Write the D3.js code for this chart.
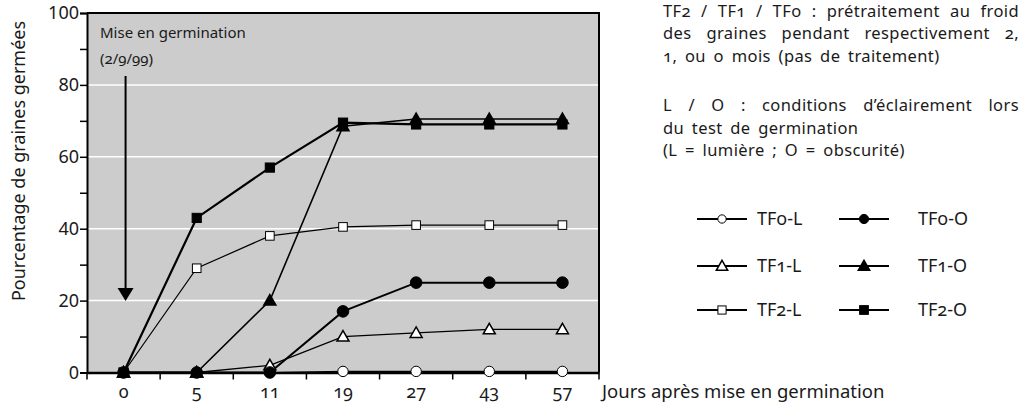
<!DOCTYPE html>
<html>
<head>
<meta charset="utf-8">
<script src="https://cdn.jsdelivr.net/npm/d3@7"></script>
<style>
  body { margin: 0; background: #fff; }
  svg text { font-family: "Noto Sans", "Open Sans", sans-serif; fill: #1a1a1a; font-feature-settings: "onum" 1; }
  .lining { font-feature-settings: "lnum" 1; }
</style>
</head>
<body>
<div id="chart"></div>
<script>
// days after germination start (categories)
var days = ["0", "5", "11", "19", "27", "43", "57"];
var yTicks = [0, 20, 40, 60, 80, 100];

// percentage of germinated seeds per series
var tf0L = [0, 0, 0, 0.3, 0.3, 0.3, 0.3];
var tf0O = [0, 0, 0, 17, 25, 25, 25];
var tf1L = [0, 0, 2, 10, 11, 12, 12];
var tf1O = [0, 0, 20, 68.5, 70.5, 70.5, 70.5];
var tf2L = [0, 29, 38, 40.5, 41, 41, 41];
var tf2O = [0, 43, 57, 69.5, 69, 69, 69];

var series = [
  { name: "TFo-L", values: tf0L, shape: "circle", fill: "#fff", w: 1.2 },
  { name: "TF1-L", values: tf1L, shape: "triangle", fill: "#fff", w: 1.3 },
  { name: "TF2-L", values: tf2L, shape: "square", fill: "#fff", w: 1.2 },
  { name: "TFo-O", values: tf0O, shape: "circle", fill: "#000", w: 2 },
  { name: "TF1-O", values: tf1O, shape: "triangle", fill: "#000", w: 1.6 },
  { name: "TF2-O", values: tf2O, shape: "square", fill: "#000", w: 2.2 }
];

var W = 1029, H = 408;
var plot = { left: 87, right: 599, top: 13, bottom: 372.5 };

var svg = d3.select("#chart").append("svg")
  .attr("width", W).attr("height", H);

var x = d3.scaleBand().domain(days).range([plot.left, plot.right]);
var y = d3.scaleLinear().domain([0, 100]).range([plot.bottom, plot.top]);

// plot background
svg.append("rect")
  .attr("x", plot.left).attr("y", plot.top)
  .attr("width", plot.right - plot.left).attr("height", plot.bottom - plot.top)
  .style("fill", "#cccccc");

// gridlines
svg.selectAll(".grid").data([20, 40, 60, 80]).enter().append("line")
  .attr("x1", plot.left).attr("x2", plot.right)
  .attr("y1", d => y(d)).attr("y2", d => y(d))
  .style("stroke", "#fff").style("stroke-width", 1.5);

// frame (top / right)
svg.append("path")
  .attr("d", "M" + plot.left + "," + plot.top + "H" + plot.right + "V" + plot.bottom)
  .style("fill", "none").style("stroke", "#000").style("stroke-width", 2);

// y axis
var yAxis = svg.append("g")
  .attr("transform", "translate(" + plot.left + ",0)")
  .call(d3.axisLeft(y).tickValues(d3.range(0, 101, 10)).tickSize(7)
    .tickFormat(d => yTicks.indexOf(d) >= 0 ? d : ""));
yAxis.select(".domain").style("stroke-width", 2);
yAxis.selectAll(".tick line").style("stroke-width", 1.5);
yAxis.selectAll("text").attr("class", "lining").style("font-size", "18px").attr("x", -8);

// x axis
var xAxis = svg.append("g")
  .attr("transform", "translate(0," + plot.bottom + ")")
  .call(d3.axisBottom(x).tickSize(0).tickSizeOuter(0));
xAxis.select(".domain").style("stroke-width", 2.5);
xAxis.selectAll("text").style("font-size", "18px").attr("y", 13);
svg.selectAll(".xt").data(days.concat(["end"])).enter().append("line")
  .attr("x1", (d, i) => plot.left + i * x.step())
  .attr("x2", (d, i) => plot.left + i * x.step())
  .attr("y1", plot.bottom).attr("y2", plot.bottom + 7)
  .style("stroke", "#000").style("stroke-width", 1.5);

// axis titles
svg.append("text")
  .attr("transform", "translate(25,161) rotate(-90)")
  .attr("text-anchor", "middle")
  .style("font-size", "18px")
  .text("Pourcentage de graines germées");

svg.append("text")
  .attr("x", 602).attr("y", 398)
  .style("font-size", "18.5px")
  .text("Jours après mise en germination");

// annotation arrow
var ax = x("0") + x.bandwidth() / 2 + 2;
svg.append("line")
  .attr("x1", ax).attr("x2", ax).attr("y1", 76).attr("y2", 290)
  .style("stroke", "#000").style("stroke-width", 2);
svg.append("path")
  .attr("d", "M" + (ax - 8) + ",288 L" + (ax + 8) + ",288 L" + ax + ",301 Z")
  .style("fill", "#000");
svg.append("text").attr("x", 100).attr("y", 38).style("font-size", "15px").text("Mise en germination");
svg.append("text").attr("x", 100).attr("y", 64).style("font-size", "15px").text("(2/9/99)");

// markers; k scales the symbol
function drawMarker(g, shape, fill, cx, cy, k) {
  var filled = fill === "#000";
  if (shape === "circle") {
    g.append("circle").attr("cx", cx).attr("cy", cy).attr("r", (filled ? 5.8 : 5.2) * k)
      .style("fill", fill).style("stroke", "#000").style("stroke-width", 1);
  } else if (shape === "square") {
    var h = (filled ? 4.6 : 4.3) * k;
    g.append("rect").attr("x", cx - h).attr("y", cy - h).attr("width", 2 * h).attr("height", 2 * h)
      .style("fill", fill).style("stroke", "#000").style("stroke-width", 1);
  } else {
    var t = 6 * k;
    g.append("path")
      .attr("d", "M" + cx + "," + (cy - t) + "L" + (cx + t) + "," + (cy + t * 0.75) + "L" + (cx - t) + "," + (cy + t * 0.75) + "Z")
      .style("fill", fill).style("stroke", "#000").style("stroke-width", 1.5).style("stroke-linejoin", "miter");
  }
}

var line = d3.line()
  .x((d, i) => x(days[i]) + x.bandwidth() / 2)
  .y(d => y(d));

series.forEach(s => {
  svg.append("path").datum(s.values)
    .attr("d", line)
    .style("fill", "none").style("stroke", "#000").style("stroke-width", s.w);
});
series.forEach(s => {
  var g = svg.append("g");
  s.values.forEach((v, i) => {
    drawMarker(g, s.shape, s.fill, x(days[i]) + x.bandwidth() / 2, y(v), 1);
  });
});

// explanatory text (right), some lines justified to the block width
var notes = [
  ["TF2 / TF1 / TFo : prétraitement au froid", 17, true],
  ["des graines pendant respectivement 2,", 39, true],
  ["1, ou o mois (pas de traitement)", 62, false],
  ["L / O : conditions d\u2019éclairement lors", 111, true],
  ["du test de germination", 134, false],
  ["(L = lumière ; O = obscurité)", 156, false]
];
var blockW = 356;
notes.forEach(n => {
  var t = svg.append("text").attr("x", 663).attr("y", n[1])
    .style("font-size", "16.5px").style("letter-spacing", "0.4px").style("word-spacing", "3px").text(n[0]);
  if (n[2]) {
    var len = t.node().getComputedTextLength();
    var gaps = n[0].split(" ").length - 1;
    t.style("word-spacing", (3 + (blockW - len) / gaps) + "px");
  }
});

// legend
var legendRows = [219, 266, 310];
var legendCols = [{ lx: 697, tx: 757 }, { lx: 839, tx: 918 }];
var legendOrder = [
  ["TFo-L", "TFo-O"],
  ["TF1-L", "TF1-O"],
  ["TF2-L", "TF2-O"]
];
legendOrder.forEach((row, r) => {
  row.forEach((name, c) => {
    var s = series.find(d => d.name === name);
    var col = legendCols[c];
    var ly = legendRows[r];
    svg.append("line").attr("x1", col.lx).attr("x2", col.lx + 50)
      .attr("y1", ly).attr("y2", ly)
      .style("stroke", "#000").style("stroke-width", 2);
    var g = svg.append("g");
    drawMarker(g, s.shape, s.fill, col.lx + 25, ly, s.shape === "circle" ? 0.8 : 0.95);
    svg.append("text").attr("x", col.tx).attr("y", ly + 6)
      .style("font-size", "18px").text(name);
  });
});
</script>
</body>
</html>
